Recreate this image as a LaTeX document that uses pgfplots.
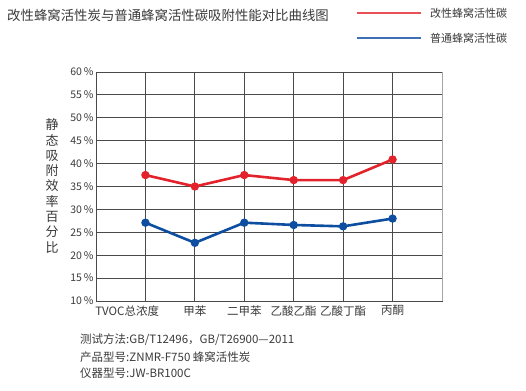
\documentclass[border=0pt]{standalone}
\usepackage{fontspec}
\setmainfont{Noto Sans CJK SC}
\usepackage{pgfplots}
\pgfplotsset{compat=1.18}
\definecolor{cred}{HTML}{E3232C}
\definecolor{cblue}{HTML}{0D4EA0}
\definecolor{gridc}{HTML}{4A4A4A}
\definecolor{txt}{HTML}{3A3A3A}
\begin{document}
\begin{tikzpicture}[x=1pt,y=1pt]
\useasboundingbox (0,0) rectangle (526,390);
\begin{axis}[at={(96pt,89pt)}, anchor=south west, scale only axis,
  width=346pt, height=229pt,
  xmin=0, xmax=7, ymin=10, ymax=60,
  xtick={1,...,6}, xticklabels={,甲苯,二甲苯,乙酸乙酯,乙酸丁酯,丙酮},
  ytick={10,15,...,60},
  yticklabel={\pgfmathprintnumber{\tick}\,\%},
  /pgf/number format/assume math mode=true,
  major tick length=0pt,
  grid=major,
  major grid style={draw=gridc, line width=0.9pt},
  axis line style={draw=gridc, line width=0.9pt},
  tick label style={text=txt, font=\fontsize{11.5}{12}\selectfont},
  yticklabel style={xshift=1pt, font=\fontsize{10.5}{12}\selectfont},
  xticklabel style={yshift=-1pt},
  clip=false,
]
\addplot[cred, line width=2.6pt, mark=*, mark size=2.8pt] coordinates {
 (1,37.5) (2,35.0) (3,37.5) (4,36.4) (5,36.4) (6,40.9)};
\addplot[cblue, line width=2.6pt, mark=*, mark size=2.8pt] coordinates {
 (1,27.1) (2,22.7) (3,27.1) (4,26.6) (5,26.3) (6,28.0)};
\draw[draw=gray!70, line width=0.9pt] (rel axis cs:1,0) -- (rel axis cs:1,1);
\node[anchor=north, text=txt, font=\fontsize{11.5}{12}\selectfont, inner sep=0pt, yshift=-5pt] at (axis cs:0.63,10) {TVOC总浓度};
\end{axis}
% title
\node[anchor=west, text=txt, font=\fontsize{13.4}{15}\selectfont, inner sep=0pt] at (7,375) {改性蜂窝活性炭与普通蜂窝活性碳吸附性能对比曲线图};
% legend
\draw[cred!80, line width=1.8pt] (357,377) -- (421,377);
\node[anchor=west, text=txt, font=\fontsize{11}{13}\selectfont, inner sep=0pt] at (430,377) {改性蜂窝活性碳};
\draw[cblue!80, line width=1.8pt] (357,352) -- (421,352);
\node[anchor=west, text=txt, font=\fontsize{11}{13}\selectfont, inner sep=0pt] at (430,352) {普通蜂窝活性碳};
% y label
\node[text=txt, font=\fontsize{13}{15.3}\selectfont, align=center, inner sep=0pt] at (52,204) {静\\态\\吸\\附\\效\\率\\百\\分\\比};
% notes
\begin{scope}[every node/.style={anchor=west, text=txt, font=\fontsize{11.5}{13}\selectfont, inner sep=0pt}]
\node at (80,50) {测试方法:GB/T12496，GB/T26900—2011};
\node at (80,33) {产品型号:ZNMR-F750 蜂窝活性炭};
\node at (80,17) {仪器型号:JW-BR100C};
\end{scope}
\end{tikzpicture}
\end{document}
